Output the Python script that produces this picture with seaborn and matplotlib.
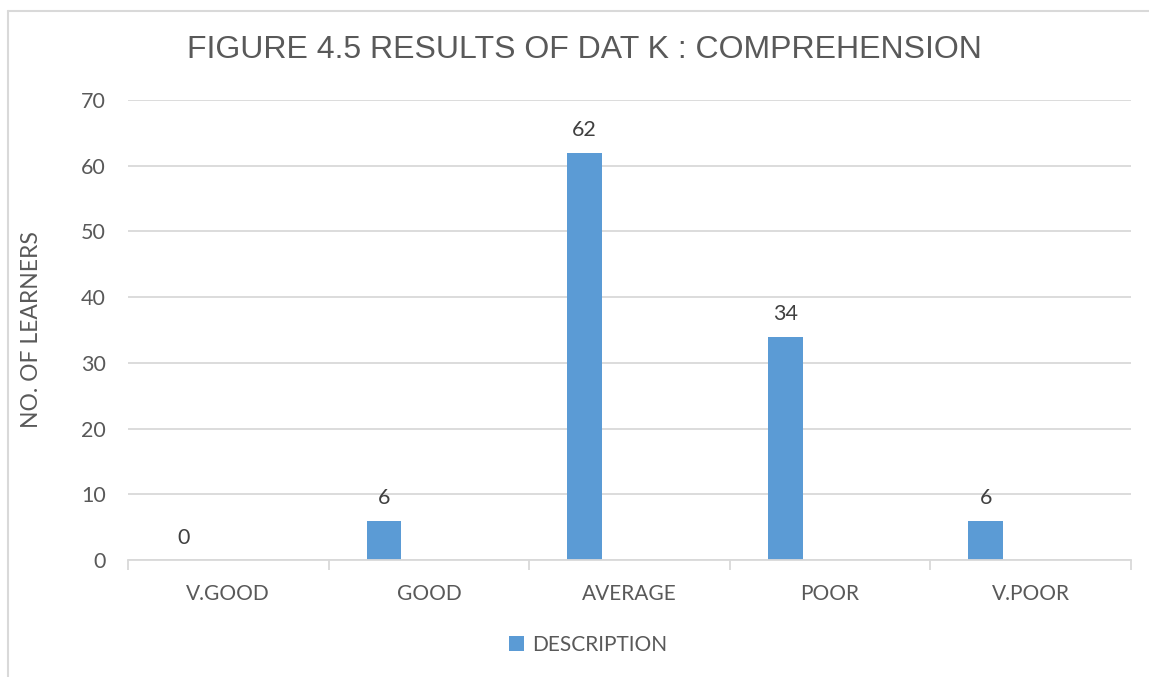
import matplotlib
matplotlib.use("Agg")
import matplotlib.pyplot as plt
from matplotlib.lines import Line2D
import seaborn as sns

# Chart data
categories = ["V.GOOD", "GOOD", "AVERAGE", "POOR", "V.POOR"]
learners = [0, 6, 62, 34, 6]
series_name = "DESCRIPTION"
y_ticks = [0, 10, 20, 30, 40, 50, 60, 70]

bar_color = "#5B9BD5"
grid_color = "#D9D9D9"
text_color = "#595959"
label_color = "#404040"
body_font = ["Lato", "DejaVu Sans"]
title_font = ["Liberation Sans", "DejaVu Sans"]

sns.set_theme(style="white")
plt.rcParams["font.family"] = body_font

fig = plt.figure(figsize=(11.49, 6.77), dpi=100)
ax = fig.add_axes([128 / 1149, 1 - 560 / 677, (1131 - 128) / 1149, (560 - 100) / 677])

sns.barplot(x=categories, y=learners, color=bar_color, width=0.174,
            saturation=1, linewidth=0, ax=ax, label=series_name)

# clustered-column placement: the single series sits left of each category centre
for p in ax.patches:
    p.set_x(p.get_x() - 0.224)

ax.bar_label(ax.containers[0], labels=[str(v) for v in learners], padding=9,
             fontsize=15.5, color=label_color, family=body_font)

ax.set_xlim(-0.5, len(categories) - 0.5)
ax.set_ylim(0, 70)
ax.set_yticks(y_ticks)
ax.yaxis.grid(True, color=grid_color, linewidth=1.3)
ax.set_axisbelow(True)

for s in ["top", "right", "left"]:
    ax.spines[s].set_visible(False)
ax.spines["bottom"].set_color(grid_color)
ax.spines["bottom"].set_linewidth(1.3)

ax.set_xticks(range(len(categories)))
ax.set_xticks([i - 0.5 for i in range(len(categories) + 1)], minor=True)
ax.tick_params(axis="x", which="major", length=0, pad=17, labelsize=15, labelcolor=text_color)
ax.tick_params(axis="x", which="minor", length=7, width=1.3, color=grid_color, bottom=True)
ax.tick_params(axis="y", length=0, pad=16, labelsize=15.5, labelcolor=text_color)

ax.set_xlabel("")
ax.set_ylabel("NO. OF LEARNERS", fontsize=16.5, color=text_color, labelpad=28)

fig.text(0.509, 1 - 50 / 677, "FIGURE 4.5 RESULTS OF DAT K : COMPREHENSION",
         ha="center", va="center", fontsize=23, color=text_color, family=title_font)

leg = ax.legend(loc="center", bbox_to_anchor=(588 / 1149, 1 - 645 / 677),
                bbox_transform=fig.transFigure, frameon=False, fontsize=15,
                handlelength=0.7, handleheight=0.7, handletextpad=0.4)
for t in leg.get_texts():
    t.set_color(text_color)

# chart-area outline
fig.add_artist(Line2D([8 / 1149, 8 / 1149], [0, 1 - 11 / 677], transform=fig.transFigure,
                      color=grid_color, linewidth=1.5))
fig.add_artist(Line2D([8 / 1149, 1], [1 - 11 / 677, 1 - 11 / 677], transform=fig.transFigure,
                      color=grid_color, linewidth=1.5))

fig.savefig("out.png", dpi=100)
